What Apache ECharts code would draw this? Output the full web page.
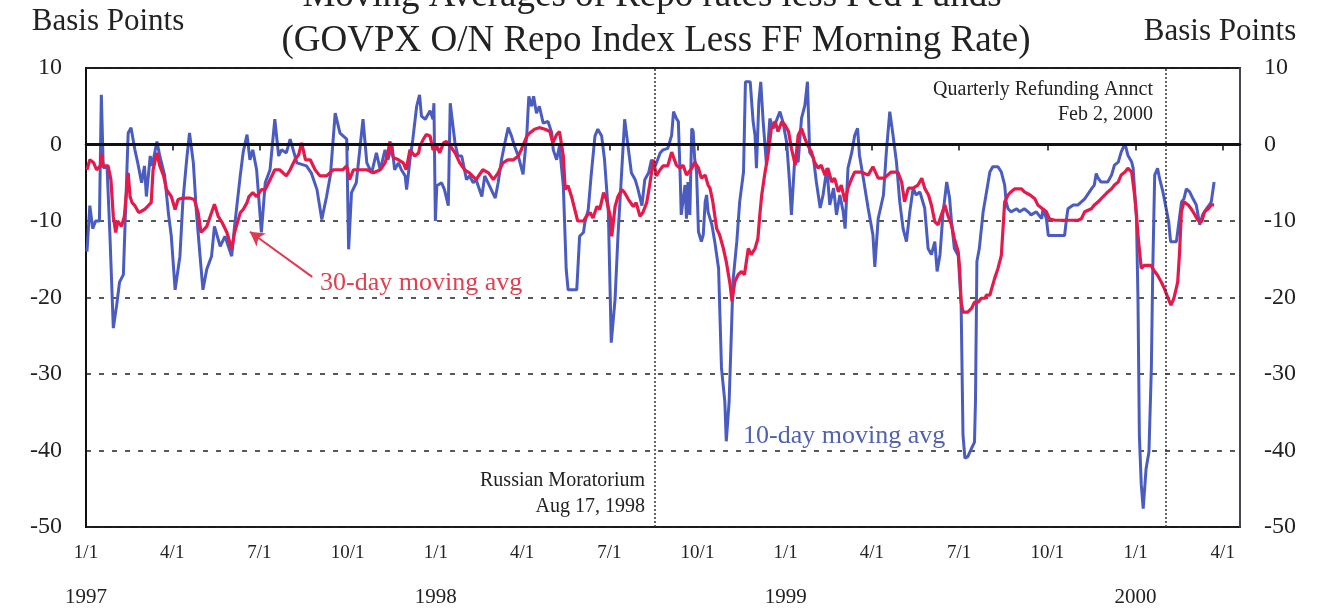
<!DOCTYPE html>
<html>
<head>
<meta charset="utf-8">
<title>Moving Averages of Repo rates less Fed Funds</title>
<script src="https://cdn.jsdelivr.net/npm/echarts@6/dist/echarts.min.js"></script>
<style>
  html, body { margin: 0; padding: 0; background: #fff; }
  #chart { width: 1319px; height: 608px; }
</style>
</head>
<body>
<div id="chart"></div>
<script>
// 10-day moving average: [days after 1 Jan 1997, basis points]
const tenDayAvg = [
  [1,-14],[4,-8],[7,-11],[10,-10],[14,-10],[16,6.5],[18,-3],[22,-3],[25,-12],[28.5,-24],
  [32,-21],[35,-18],[39,-17],[44,1.5],[47,2.2],[51,-0.7],[54,-2.4],[58,-5],[61,-2.8],[63,-6.8],
  [67,-1.5],[69,-2.8],[74,0.4],[77,-1.5],[82,-4],[86,-9],[89,-12],[93,-19],[98,-14.6],[101,-7.6],
  [105,-2],[108,1.5],[112,-2.4],[115,-8.5],[119,-14.6],[122,-19],[126,-16.3],[131,-14.6],[134,-10.7],[140,-13.3],
  [145,-12],[152,-14.6],[155,-10.7],[161,-4],[164,-1],[168,1.3],[171,-2],[174,-0.7],[178,-3.3],[183,-11.5],
  [187,-5],[192,-3.3],[197,3.3],[201,-1.5],[204,-0.7],[209,-1.1],[213,0.7],[220,-2.4],[230,-2.8],[235,-3.7],
  [241,-5.9],[246,-9.8],[251,-6.8],[255,-4],[260,4.1],[265,1.5],[272,0.7],[274,-13.7],[277,-6.3],[282,-5],
  [289,3.3],[293,-2.4],[298,-3.7],[303,-1.1],[307,-3.3],[312,-0.7],[315,-2],[317,-1.1],[319,0.2],[322,-3.3],
  [326,-2.4],[329,-3.3],[333,-4.1],[334.5,-5.9],[338,-2],[341,0.7],[345,5],[348,6.5],[350,3.7],[354,3.3],
  [359,4.4],[362,3.3],[363,5.4],[364.5,-10],[366,-5.4],[371,-5],[374,-5.9],[378,-8],[380,5.4],[381.5,5.2],
  [385,0.2],[388,-1.5],[392,-1.5],[397,-4.6],[400,-4.1],[404,-5],[407,-4.6],[413,-6.8],[416,-4.1],[421,-5.4],
  [427,-7],[430,-5],[433.5,-2],[437,0.2],[440.5,2.2],[444,1.1],[447,-0.2],[451,-1.5],[456,-3.9],[460,1.5],
  [462,6.3],[465,5],[467,6.3],[470,4.1],[473,5],[477,2.8],[482,3],[486,1.5],[487.5,-0.7],[491,-2],
  [494,-0.2],[498,-5.4],[501,-16.3],[503,-19],[512,-19],[515,-12],[519,-11.5],[520.5,-10.2],[524,-8.5],[527,-4.1],
  [531,1.1],[534,2],[538,1.1],[541,-2],[545,-8.9],[548,-25.9],[552,-20.2],[555,-12],[559,-3.3],[562,3.3],
  [566,-0.7],[569,-3.7],[573,-4.6],[576,-5.9],[580,-8],[583,-4.6],[587,-3.7],[590,-2],[594,-2.8],[599,-1.1],
  [602,-0.7],[607,-0.5],[611,1.2],[613,4.3],[616,3.4],[618,3],[620,-4.4],[621,-9.2],[625,-5.3],[626.5,-9.7],
  [628,-4.9],[630,-9.2],[632,2.1],[633.5,1.7],[635,-1.8],[637,-3.6],[639,-11.4],[642,-12.7],[644,-11.8],[646,-7.5],
  [647.5,-6.6],[649,-8.8],[653,-10.5],[656,-12.7],[660,-16.2],[663,-29.2],[666.5,-33.6],[668,-38.8],[671,-33.6],[673.5,-24],
  [675,-17.9],[679,-12.7],[682,-7.5],[686,-3.6],[688,8.2],[693,8.2],[696,3],[698,1.2],[699.5,-3.1],[702,5.6],
  [704,8.2],[706.5,3],[710,-2.7],[713.5,3.4],[717,2.1],[720,3],[724,4.3],[727,3],[731,0.3],[734,-4.9],
  [736,-9.2],[739.5,-1.8],[743,-2.3],[746.5,3.4],[750,5.1],[752.7,8.2],[755,-1],[759,-1.8],[762,-4.9],[766,-8.3],
  [769,-6.6],[773,-3.1],[776,-7.9],[780,-5.7],[783,-9.2],[786.5,-6.6],[790,-8.8],[792,-11],[795,-3.1],[799,-1],
  [802,1.2],[805,2.1],[807,-1.4],[811,-4.4],[816,-8.3],[821,-11.8],[823,-16],[826.5,-9.7],[832,-6.6],[835,-1],
  [838.6,4.3],[842,1.2],[845.6,-2.3],[849,-7.5],[852.5,-11],[856,-12.7],[859.5,-8.8],[863,-5.7],[866,-6.6],[870,-6.2],
  [875,-8.3],[878.6,-13.6],[882,-14.4],[885.6,-12.7],[888,-16.6],[891,-14.4],[894,-9.2],[898,-4.9],[901,-7],[903,-10.1],
  [906,-13.6],[910,-14.5],[913,-20.6],[915,-38],[917,-41],[920,-40.8],[924,-39.7],[927,-38.9],[928,-33.6],[929.5,-15.3],
  [932,-13.6],[936,-8.8],[939,-6.6],[943,-3.6],[946,-2.9],[951.5,-2.9],[955,-3.6],[958.5,-5.3],[960,-7.5],[962,-8.4],
  [965,-8.8],[971,-8.4],[974,-8.8],[979,-8.4],[983,-8.8],[986,-9.2],[991.5,-8.8],[997,-9.7],[998.5,-8.4],[1002,-9.7],
  [1004,-11.9],[1021,-11.9],[1023,-9.7],[1024.5,-8.4],[1030,-7.9],[1035,-7.9],[1038.5,-7.5],[1042,-7.1],[1049,-5.8],[1052,-5.3],
  [1054,-3.8],[1056,-4.4],[1059,-4.9],[1066,-4.9],[1070,-4],[1073,-2.7],[1077,-2.3],[1080,-1],[1084,0.1],[1087,-1.4],
  [1091,-2.3],[1092.5,-3.1],[1096,-9.7],[1097.6,-20.6],[1099,-38],[1101,-44.5],[1103,-47.6],[1106,-42.4],[1109,-40.2],[1111.5,-29.3],
  [1113,-16.2],[1115,-4],[1118,-3.1],[1120,-4.4],[1123.6,-6.2],[1125.4,-6.2],[1127,-8.4],[1129.6,-10.1],[1131.6,-12.7],[1137.6,-12.7],
  [1139,-11.4],[1143,-7.5],[1145.5,-7.1],[1148,-5.8],[1151.5,-6.2],[1155,-7.1],[1158.4,-7.9],[1162,-10.5],[1165,-9.2],[1169,-8.4],
  [1172,-7.9],[1174,-7.5],[1177,-4.9]
];

// 30-day moving average: [days after 1 Jan 1997, basis points]
const thirtyDayAvg = [
  [1,-3.3],[4,-2],[8,-2.4],[11,-3.3],[15,-2.8],[16,-1.3],[18,-2.8],[23,-2.8],[26,-4.6],[28.5,-9.4],
  [31,-11.5],[33,-10],[37,-10.7],[40,-9.4],[44,-3.7],[46,-6.8],[48,-7.6],[51,-8],[55,-8.9],[61,-8.5],
  [68,-7.6],[70,-3.3],[74,-1.1],[77,-2.8],[81,-4.1],[84,-5.9],[89,-6.8],[93,-8.5],[96,-7.2],[101,-7],
  [108,-7],[113,-7.2],[117,-8.9],[120,-11.5],[126,-10.7],[131,-8.9],[134,-7.8],[138,-9.4],[142,-10.2],[147,-11.5],
  [152,-13.7],[155,-11.5],[161,-8.9],[164,-8.5],[168,-7.6],[170,-6.8],[174,-6.3],[178,-6.8],[183,-5.9],[187,-5.9],
  [192,-4.6],[197,-3.3],[202,-3.3],[209,-4.1],[213,-3.3],[218,-2],[222,-1.3],[225,0.2],[229,-2],[234,-2],
  [239,-3.3],[244,-4.1],[251,-4.1],[258,-3.3],[268,-3.3],[272,-2.8],[275,-4.6],[279,-3.3],[286,-3.3],[293,-3.3],
  [300,-3.7],[307,-3.3],[312,-2.4],[315,-1.1],[317,0.4],[320.5,-1.7],[326,-2],[331,-2.4],[334,-3.3],[338,-0.7],
  [343,-1.5],[347,-1.1],[348.5,-0.2],[352,0.7],[355,1.3],[359,1.1],[362,-0.7],[366,-0.2],[369,-1.1],[373,0.2],
  [376,0.4],[380,-0.2],[385,-1.1],[390,-2.4],[395,-3.3],[400,-3.7],[407,-4.6],[414,-3.3],[420,-3.7],[425,-4.6],
  [430,-3.7],[435,-2.4],[440,-2],[446,-2],[451,-1.5],[454,-0.7],[460,1.1],[463,1.5],[468,2],[473,2.2],
  [479,2],[484,1.7],[487,0.2],[491,1.3],[494,1.7],[498,-1.5],[500,-5.9],[503,-5.4],[507,-7],[510,-8.5],
  [513,-10],[519,-10],[522,-9.4],[526,-8.9],[529,-9.6],[533,-8.1],[536,-8.5],[540,-6.3],[543,-7.2],[547,-9.4],
  [548.5,-12],[552,-8.1],[555,-6.8],[559,-5.9],[562,-6.3],[566,-7.2],[571,-8.1],[574,-7.6],[578,-9.4],[581,-8.9],
  [585,-7.6],[588,-5.4],[592,-2],[595,-4.1],[599,-3.3],[602,-2.8],[607,-2.8],[611,-1],[616,-2.7],[620,-3.1],
  [623,-2.7],[626.5,-4],[632,-3.1],[635,-2.3],[639,-3.1],[642,-4.4],[646,-4],[649,-5.3],[651,-5.7],[654,-7.5],
  [658,-11],[661,-11.8],[665,-13.6],[668,-15.3],[672,-18.3],[674,-20.5],[677,-17.9],[680.5,-17],[684,-16.6],[687,-17],
  [691,-13.6],[694,-14.4],[698,-13.6],[701,-12.3],[703,-9.2],[705,-6.6],[708,-4],[712,-1],[715,2.1],[719,3],
  [722,1.7],[726,3],[729,2.6],[733,1.7],[736,-0.5],[740,-2.7],[743,1.2],[746.5,2.1],[750,0.8],[753,-0.1],
  [757,-1],[760,-2.3],[764,-3.1],[767,-2.7],[771,-4],[774,-3.1],[778,-4.9],[781,-4.4],[785,-6.2],[788,-5.3],
  [792,-7.5],[795,-5.7],[799,-4.4],[802,-3.6],[809,-3.6],[816,-4],[821,-2.9],[826.5,-4.4],[833,-4.4],[840,-3.6],
  [847,-3.6],[851,-4.9],[854,-7.5],[858,-5.7],[863,-5.7],[868,-5.3],[872,-4.4],[875,-5.7],[879,-6.6],[882,-7.9],
  [885.6,-10.1],[889,-10.5],[892.5,-9.2],[896,-7.9],[899,-9.2],[903,-10.5],[906,-12.3],[910,-14],[911.5,-16.2],[913,-20.6],
  [915,-21.9],[920,-21.9],[924,-21.4],[927,-20.6],[931,-20.6],[934,-20.1],[938,-20.1],[939.4,-19.7],[943,-19.7],[945,-18.8],
  [948,-17.5],[951.5,-16.2],[955,-14.5],[957,-10.5],[958.5,-7.5],[962,-6.6],[965,-6.2],[969,-5.8],[976,-5.8],[979,-6.2],
  [985,-6.6],[990,-7.1],[993,-7.9],[998,-8.4],[1002,-8.8],[1005,-9.7],[1011,-9.9],[1035,-9.9],[1038.5,-9.7],[1042,-8.8],
  [1049,-8.4],[1052,-7.9],[1056,-7.5],[1059,-7.1],[1063,-6.6],[1066,-6.2],[1070,-5.8],[1073,-5.3],[1077,-4.9],[1080,-4],
  [1084,-3.6],[1087,-3.1],[1091,-3.6],[1094,-6.6],[1096,-9.2],[1097.6,-11.9],[1101,-16.2],[1104,-15.8],[1111,-15.8],[1115,-16.6],
  [1118,-17.1],[1122,-18],[1125,-18.8],[1129,-20.1],[1132,-21],[1135,-20.1],[1139,-18],[1141,-14],[1142.8,-8.8],[1145.5,-7.5],
  [1150,-7.9],[1153,-8.4],[1157,-9.2],[1160,-9.9],[1164,-10.1],[1167,-8.8],[1171,-8.4],[1174,-7.9],[1177,-7.9]
];

// quarterly tick dates on the x axis
const quarterTicks = [
  '1997-01-01', '1997-04-01', '1997-07-01', '1997-10-01',
  '1998-01-01', '1998-04-01', '1998-07-01', '1998-10-01',
  '1999-01-01', '1999-04-01', '1999-07-01', '1999-10-01',
  '2000-01-01', '2000-04-01'
];

// event markers
const eventDates = ['1998-08-17', '2000-02-02'];

const axisStart = '1997-01-01';
const axisEnd = '2000-04-19';

const DAY = 86400000;
const toTime = (s) => {
  const [y, m, d] = s.split('-').map(Number);
  return Date.UTC(y, m - 1, d);
};
const START = toTime(axisStart);
const toPoints = (arr) => arr.map(([d, v]) => [START + d * DAY, v]);

const SERIF = '"Liberation Serif", "Times New Roman", serif';
const BLUE = '#4b5cc0';
const RED = '#e5194a';

const chart = echarts.init(document.getElementById('chart'));

const tickTimes = quarterTicks.map(toTime);

const option = {
  animation: false,
  backgroundColor: '#fff',
  grid: {
    left: 86, right: 79, top: 68, bottom: 81,
    show: true,
    borderColor: '#1a1a1a',
    borderWidth: 2
  },
  xAxis: {
    // timestamps on a value axis, ticks placed at quarter starts
    type: 'value',
    min: toTime(axisStart),
    max: toTime(axisEnd),
    axisLine: { lineStyle: { color: '#111', width: 2.5 } },
    axisTick: {
      show: true,
      length: 6,
      customValues: tickTimes,
      lineStyle: { color: '#111', width: 1.5 }
    },
    splitLine: { show: false },
    axisLabel: {
      customValues: tickTimes,
      margin: 15,
      color: '#222',
      fontFamily: SERIF,
      fontSize: 19,
      lineHeight: 22,
      formatter: (value) => {
        const d = new Date(value);
        const label = (d.getUTCMonth() + 1) + '/' + d.getUTCDate();
        return d.getUTCMonth() === 0 ? label + '\n\n{yr|' + d.getUTCFullYear() + '}' : label;
      },
      rich: {
        yr: { fontFamily: SERIF, fontSize: 21, color: '#222', lineHeight: 22 }
      }
    }
  },
  yAxis: [
    {
      type: 'value',
      min: -50, max: 10, interval: 10,
      axisLine: { show: true, lineStyle: { color: '#111', width: 2 } },
      axisTick: { show: false },
      axisLabel: { margin: 24, color: '#222', fontFamily: SERIF, fontSize: 24 },
      splitLine: { show: true, lineStyle: { color: '#222', width: 1.5, type: [5, 8] } }
    },
    {
      type: 'value',
      position: 'right',
      min: -50, max: 10, interval: 10,
      axisLine: { show: true, lineStyle: { color: '#5d5070', width: 1.5 } },
      axisTick: { show: false },
      axisLabel: { margin: 24, color: '#222', fontFamily: SERIF, fontSize: 24 },
      splitLine: { show: false }
    }
  ],
  series: [
    {
      name: '10-day moving avg',
      type: 'line',
      data: toPoints(tenDayAvg),
      showSymbol: false,
      lineStyle: { color: BLUE, width: 3 },
      itemStyle: { color: BLUE },
      markLine: {
        silent: true,
        symbol: ['none', 'none'],
        label: { show: false },
        data: [
          { yAxis: 0, lineStyle: { color: '#111', width: 3, type: 'solid' } },
          ...eventDates.map((s) => ({
            xAxis: toTime(s),
            lineStyle: { color: '#333', width: 1.5, type: [2, 2] }
          }))
        ]
      },
      z: 2
    },
    {
      name: '30-day moving avg',
      type: 'line',
      data: toPoints(thirtyDayAvg),
      showSymbol: false,
      lineStyle: { color: RED, width: 3.2 },
      itemStyle: { color: RED },
      markLine: {
        silent: true,
        symbol: ['none', 'arrow'],
        symbolSize: [12, 14],
        label: { show: false },
        lineStyle: { color: '#e03a4e', width: 2, type: 'solid' },
        data: [[
          { coord: [START + 236 * DAY, -17.3] },
          { coord: [START + 171 * DAY, -11.4] }
        ]]
      },
      z: 3
    }
  ],
  graphic: [
    { type: 'text', x: 108, y: 22, style: { text: 'Basis Points', font: '31px ' + SERIF, fill: '#222', textAlign: 'center', textVerticalAlign: 'middle' } },
    { type: 'text', x: 1220, y: 32, style: { text: 'Basis Points', font: '31px ' + SERIF, fill: '#222', textAlign: 'center', textVerticalAlign: 'middle' } },
    { type: 'text', x: 652, y: -4, style: { text: 'Moving Averages of Repo rates less Fed Funds', font: '37px ' + SERIF, fill: '#222', textAlign: 'center', textVerticalAlign: 'middle' } },
    { type: 'text', x: 656, y: 41, style: { text: '(GOVPX O/N Repo Index Less FF Morning Rate)', font: '37px ' + SERIF, fill: '#222', textAlign: 'center', textVerticalAlign: 'middle' } },
    { type: 'text', x: 1153, y: 90, style: { text: 'Quarterly Refunding Annct', font: '20px ' + SERIF, fill: '#222', textAlign: 'right', textVerticalAlign: 'middle' } },
    { type: 'text', x: 1153, y: 115, style: { text: 'Feb 2, 2000', font: '20px ' + SERIF, fill: '#222', textAlign: 'right', textVerticalAlign: 'middle' } },
    { type: 'text', x: 645, y: 481, style: { text: 'Russian Moratorium', font: '20px ' + SERIF, fill: '#222', textAlign: 'right', textVerticalAlign: 'middle' } },
    { type: 'text', x: 645, y: 507, style: { text: 'Aug 17, 1998', font: '20px ' + SERIF, fill: '#222', textAlign: 'right', textVerticalAlign: 'middle' } },
    { type: 'text', x: 320, y: 283, style: { text: '30-day moving avg', font: '26px ' + SERIF, fill: '#e0404f', textAlign: 'left', textVerticalAlign: 'middle' } },
    { type: 'text', x: 743, y: 436, style: { text: '10-day moving avg', font: '26px ' + SERIF, fill: '#5262ad', textAlign: 'left', textVerticalAlign: 'middle' } }
  ]
};

chart.setOption(option);
</script>
</body>
</html>
